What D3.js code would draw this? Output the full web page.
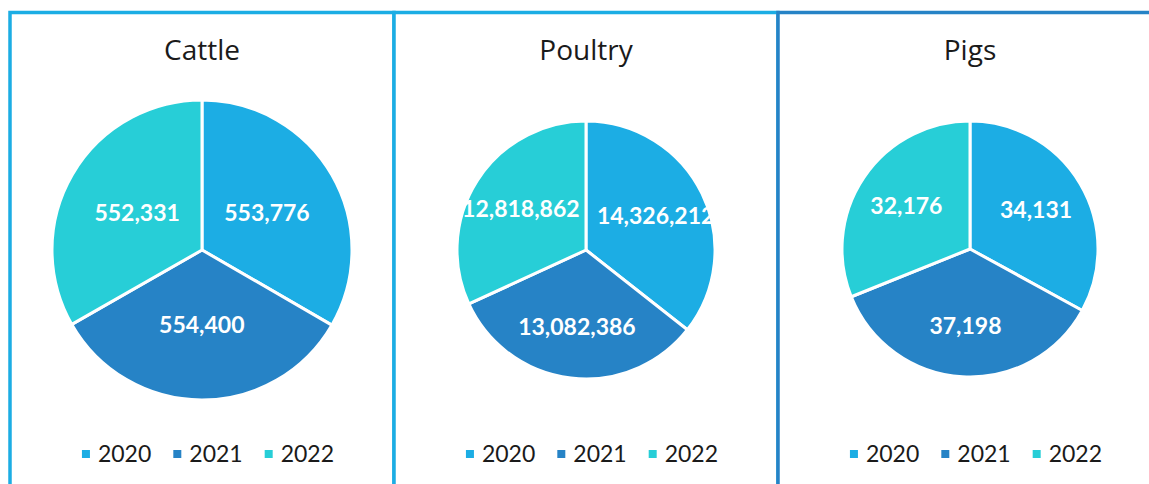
<!DOCTYPE html>
<html>
<head>
<meta charset="utf-8">
<script src="https://cdn.jsdelivr.net/npm/d3@7"></script>
<style>
  body { margin: 0; background: #fff; }
  svg { display: block; }
</style>
</head>
<body>
<div id="chart"></div>
<script>
// Data
const years = ["2020", "2021", "2022"];
const titles = ["Cattle", "Poultry", "Pigs"];
const cattle = [553776, 554400, 552331];
const poultry = [14326212, 13082386, 12818862];
const pigs = [34131, 37198, 32176];
const sliceColors = ["#1CADE4", "#2683C6", "#27CED7"];

const series = [cattle, poultry, pigs];

// Layout
const W = 1149, H = 484;
const panelW = 384;
const borderColors = ["#1CADE4", "#1CADE4", "#2683C6"];
const radii = [150, 129, 128];
const pieY = [250, 250, 249];
const labelFrac = [0.5, 0.6, 0.6]; // label distance from centre, as share of radius

const svg = d3.select("#chart").append("svg")
    .attr("width", W)
    .attr("height", H);

const xPanel = d3.scaleBand()
    .domain(titles)
    .range([10, 10 + panelW * titles.length]);

const color = d3.scaleOrdinal().domain(years).range(sliceColors);

const pie = d3.pie().sort(null).value(d => d.value);
const fmt = d3.format(",");

titles.forEach((title, i) => {
    const x0 = xPanel(title);
    const cx = x0 + xPanel.bandwidth() / 2;
    const g = svg.append("g");

    // panel border
    g.append("rect")
        .attr("x", x0)
        .attr("y", 12.5)
        .attr("width", xPanel.bandwidth())
        .attr("height", 600)
        .attr("fill", "#fff")
        .attr("stroke", borderColors[i])
        .attr("stroke-width", 3.5);

    // title
    g.append("text")
        .attr("x", cx)
        .attr("y", 60)
        .attr("text-anchor", "middle")
        .style("font-family", "'Open Sans', Lato, sans-serif")
        .style("font-size", "28px")
        .style("fill", "#1a1a1a")
        .text(title);

    // pie
    const r = radii[i];
    const data = years.map((y, k) => ({ year: y, value: series[i][k] }));
    const arcs = pie(data);
    const arc = d3.arc().innerRadius(0).outerRadius(r);
    const lr = r * labelFrac[i];
    const labelArc = d3.arc().innerRadius(lr).outerRadius(lr);

    const pg = g.append("g").attr("transform", `translate(${cx},${pieY[i]})`);

    pg.selectAll("path")
        .data(arcs)
        .join("path")
        .attr("d", arc)
        .attr("fill", d => color(d.data.year))
        .attr("stroke", "#fff")
        .attr("stroke-width", 3)
        .attr("stroke-linejoin", "round");

    pg.selectAll("text")
        .data(arcs)
        .join("text")
        .attr("transform", d => `translate(${labelArc.centroid(d)})`)
        .attr("text-anchor", "middle")
        .attr("dy", "0.36em")
        .style("font-family", "Lato, 'Open Sans', sans-serif")
        .style("font-weight", "bold")
        .style("font-size", "23px")
        .style("fill", "#fff")
        .text(d => fmt(d.data.value));

    // legend
    const lg = g.append("g");
    const gap = 22;
    let lx = 0;
    years.forEach(y => {
        lg.append("rect")
            .attr("x", lx)
            .attr("y", 450)
            .attr("width", 8)
            .attr("height", 8)
            .attr("fill", color(y));
        const t = lg.append("text")
            .attr("x", lx + 16)
            .attr("y", 462)
            .style("font-family", "Lato, 'Open Sans', sans-serif")
            .style("font-size", "23px")
            .style("fill", "#1a1a1a")
            .text(y);
        lx += 16 + t.node().getComputedTextLength() + gap;
    });
    const legendW = lx - gap;
    lg.attr("transform", `translate(${cx + 6 - legendW / 2},0)`);
});
</script>
</body>
</html>
